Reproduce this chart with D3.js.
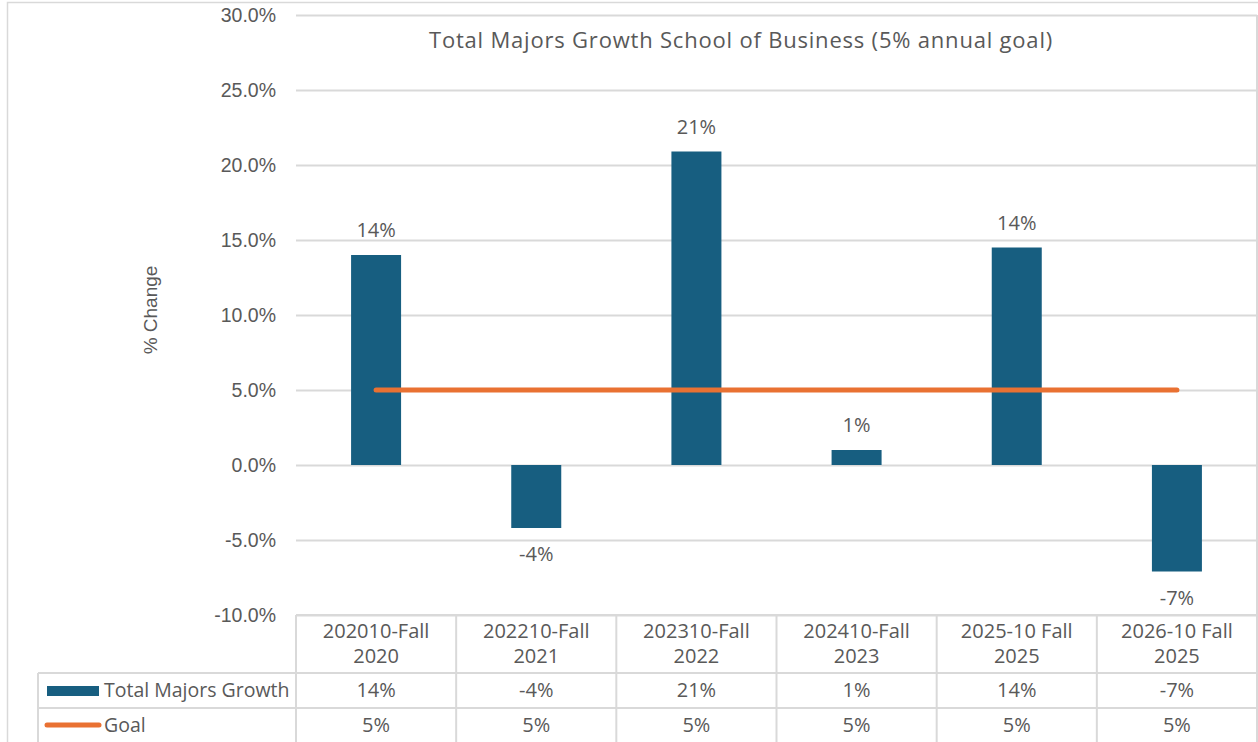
<!DOCTYPE html>
<html>
<head>
<meta charset="utf-8">
<script src="https://cdn.jsdelivr.net/npm/d3@7.9.0/dist/d3.min.js"></script>
<style>
  body { margin: 0; background: #fff; }
  svg { display: block; }
  text { fill: #595959; }
</style>
</head>
<body>
<svg id="chart" width="1258" height="742"></svg>
<script>
// data
const categories = [
  ['202010-Fall', '2020'],
  ['202210-Fall', '2021'],
  ['202310-Fall', '2022'],
  ['202410-Fall', '2023'],
  ['2025-10 Fall', '2025'],
  ['2026-10 Fall', '2025']
];
const growth = [14.0, -4.2, 20.9, 1.0, 14.5, -7.1];
const growthLabels = ['14%', '-4%', '21%', '1%', '14%', '-7%'];
const goal = [5, 5, 5, 5, 5, 5];
const goalLabels = ['5%', '5%', '5%', '5%', '5%', '5%'];
const yTicks = [-10, -5, 0, 5, 10, 15, 20, 25, 30];

const blue = '#175E80', orange = '#E97132', grid = '#d9d9d9';
const font = "'Open Sans', 'Liberation Sans', sans-serif";
const axisFont = "'Liberation Sans', Arial, sans-serif";

const svg = d3.select('#chart');

// outer chart border
svg.append('rect')
  .attr('x', 7.5).attr('y', 2.5)
  .attr('width', 1300).attr('height', 800)
  .attr('fill', 'none').attr('stroke', grid).attr('stroke-width', 1.5);

const plotL = 296, plotR = 1257, plotT = 15, plotB = 615;

const x = d3.scaleBand()
  .domain(d3.range(categories.length))
  .range([plotL, plotR])
  .paddingInner(0);

const y = d3.scaleLinear().domain([-10, 30]).range([plotB, plotT]);

// y axis with gridlines
const yAxis = svg.append('g')
  .attr('transform', `translate(${plotL},0)`)
  .call(d3.axisLeft(y)
    .tickValues(yTicks)
    .tickSizeInner(-(plotR - plotL))
    .tickSizeOuter(0)
    .tickPadding(20)
    .tickFormat(d => d.toFixed(1) + '%'));
yAxis.select('.domain').remove();
yAxis.selectAll('line').attr('stroke', grid).attr('stroke-width', 2);
yAxis.selectAll('text')
  .attr('fill', '#595959')
  .style('font-family', axisFont)
  .style('font-size', '19.5px');

// right edge of plot
svg.append('line')
  .attr('x1', plotR).attr('x2', plotR)
  .attr('y1', plotT).attr('y2', 742)
  .attr('stroke', grid).attr('stroke-width', 2);

// bars
const barW = 50;
svg.append('g').selectAll('rect')
  .data(growth)
  .join('rect')
  .attr('x', (d, i) => x(i) + x.bandwidth() / 2 - barW / 2)
  .attr('width', barW)
  .attr('y', d => y(Math.max(0, d)))
  .attr('height', d => Math.abs(y(d) - y(0)))
  .attr('fill', blue);

// goal line
const line = d3.line()
  .x((d, i) => x(i) + x.bandwidth() / 2)
  .y(d => y(d));
svg.append('path')
  .datum(goal)
  .attr('d', line)
  .attr('fill', 'none')
  .attr('stroke', orange)
  .attr('stroke-width', 5)
  .attr('stroke-linecap', 'round');

// data labels
svg.append('g').selectAll('text')
  .data(growth)
  .join('text')
  .attr('x', (d, i) => x(i) + x.bandwidth() / 2)
  .attr('y', d => d >= 0 ? y(d) - 18 : y(d) + 33)
  .attr('text-anchor', 'middle')
  .style('font-family', font)
  .style('font-size', '20px')
  .text((d, i) => growthLabels[i]);

// title
svg.append('text')
  .attr('x', 741).attr('y', 48)
  .attr('text-anchor', 'middle')
  .style('font-family', font)
  .style('font-size', '22px')
  .style('letter-spacing', '0.8px')
  .text('Total Majors Growth School of Business (5% annual goal)');

// y axis title
svg.append('text')
  .attr('transform', 'translate(157,310) rotate(-90)')
  .attr('text-anchor', 'middle')
  .style('font-family', axisFont)
  .style('font-size', '19px')
  .text('% Change');

// data table
const rowLines = [615, 673, 708];
const table = svg.append('g');
table.append('line')
  .attr('x1', plotL).attr('x2', plotR).attr('y1', rowLines[0]).attr('y2', rowLines[0])
  .attr('stroke', grid).attr('stroke-width', 2);
rowLines.slice(1).forEach(yy => {
  table.append('line')
    .attr('x1', 38).attr('x2', plotR).attr('y1', yy).attr('y2', yy)
    .attr('stroke', grid).attr('stroke-width', 2);
});
table.append('line')
  .attr('x1', 38).attr('x2', 38).attr('y1', rowLines[1]).attr('y2', 742)
  .attr('stroke', grid).attr('stroke-width', 2);
d3.range(categories.length).forEach(i => {
  table.append('line')
    .attr('x1', x(i)).attr('x2', x(i)).attr('y1', rowLines[0]).attr('y2', 742)
    .attr('stroke', grid).attr('stroke-width', 2);
});

// category labels
categories.forEach((c, i) => {
  c.forEach((t, k) => {
    table.append('text')
      .attr('x', x(i) + x.bandwidth() / 2)
      .attr('y', 638 + k * 25)
      .attr('text-anchor', 'middle')
      .style('font-family', font)
      .style('font-size', '20px')
      .text(t);
  });
});

// table values
[[growthLabels, 697], [goalLabels, 732]].forEach(([vals, yy]) => {
  vals.forEach((v, i) => {
    table.append('text')
      .attr('x', x(i) + x.bandwidth() / 2)
      .attr('y', yy)
      .attr('text-anchor', 'middle')
      .style('font-family', font)
      .style('font-size', '20px')
      .text(v);
  });
});

// legend keys in the table
table.append('rect')
  .attr('x', 47).attr('y', 686).attr('width', 52).attr('height', 10)
  .attr('fill', blue);
table.append('text')
  .attr('x', 104).attr('y', 697)
  .style('font-family', font).style('font-size', '19.5px')
  .text('Total Majors Growth');
table.append('line')
  .attr('x1', 47).attr('x2', 99).attr('y1', 725).attr('y2', 725)
  .attr('stroke', orange).attr('stroke-width', 5).attr('stroke-linecap', 'round');
table.append('text')
  .attr('x', 104).attr('y', 732)
  .style('font-family', font).style('font-size', '19.5px')
  .text('Goal');
</script>
</body>
</html>
